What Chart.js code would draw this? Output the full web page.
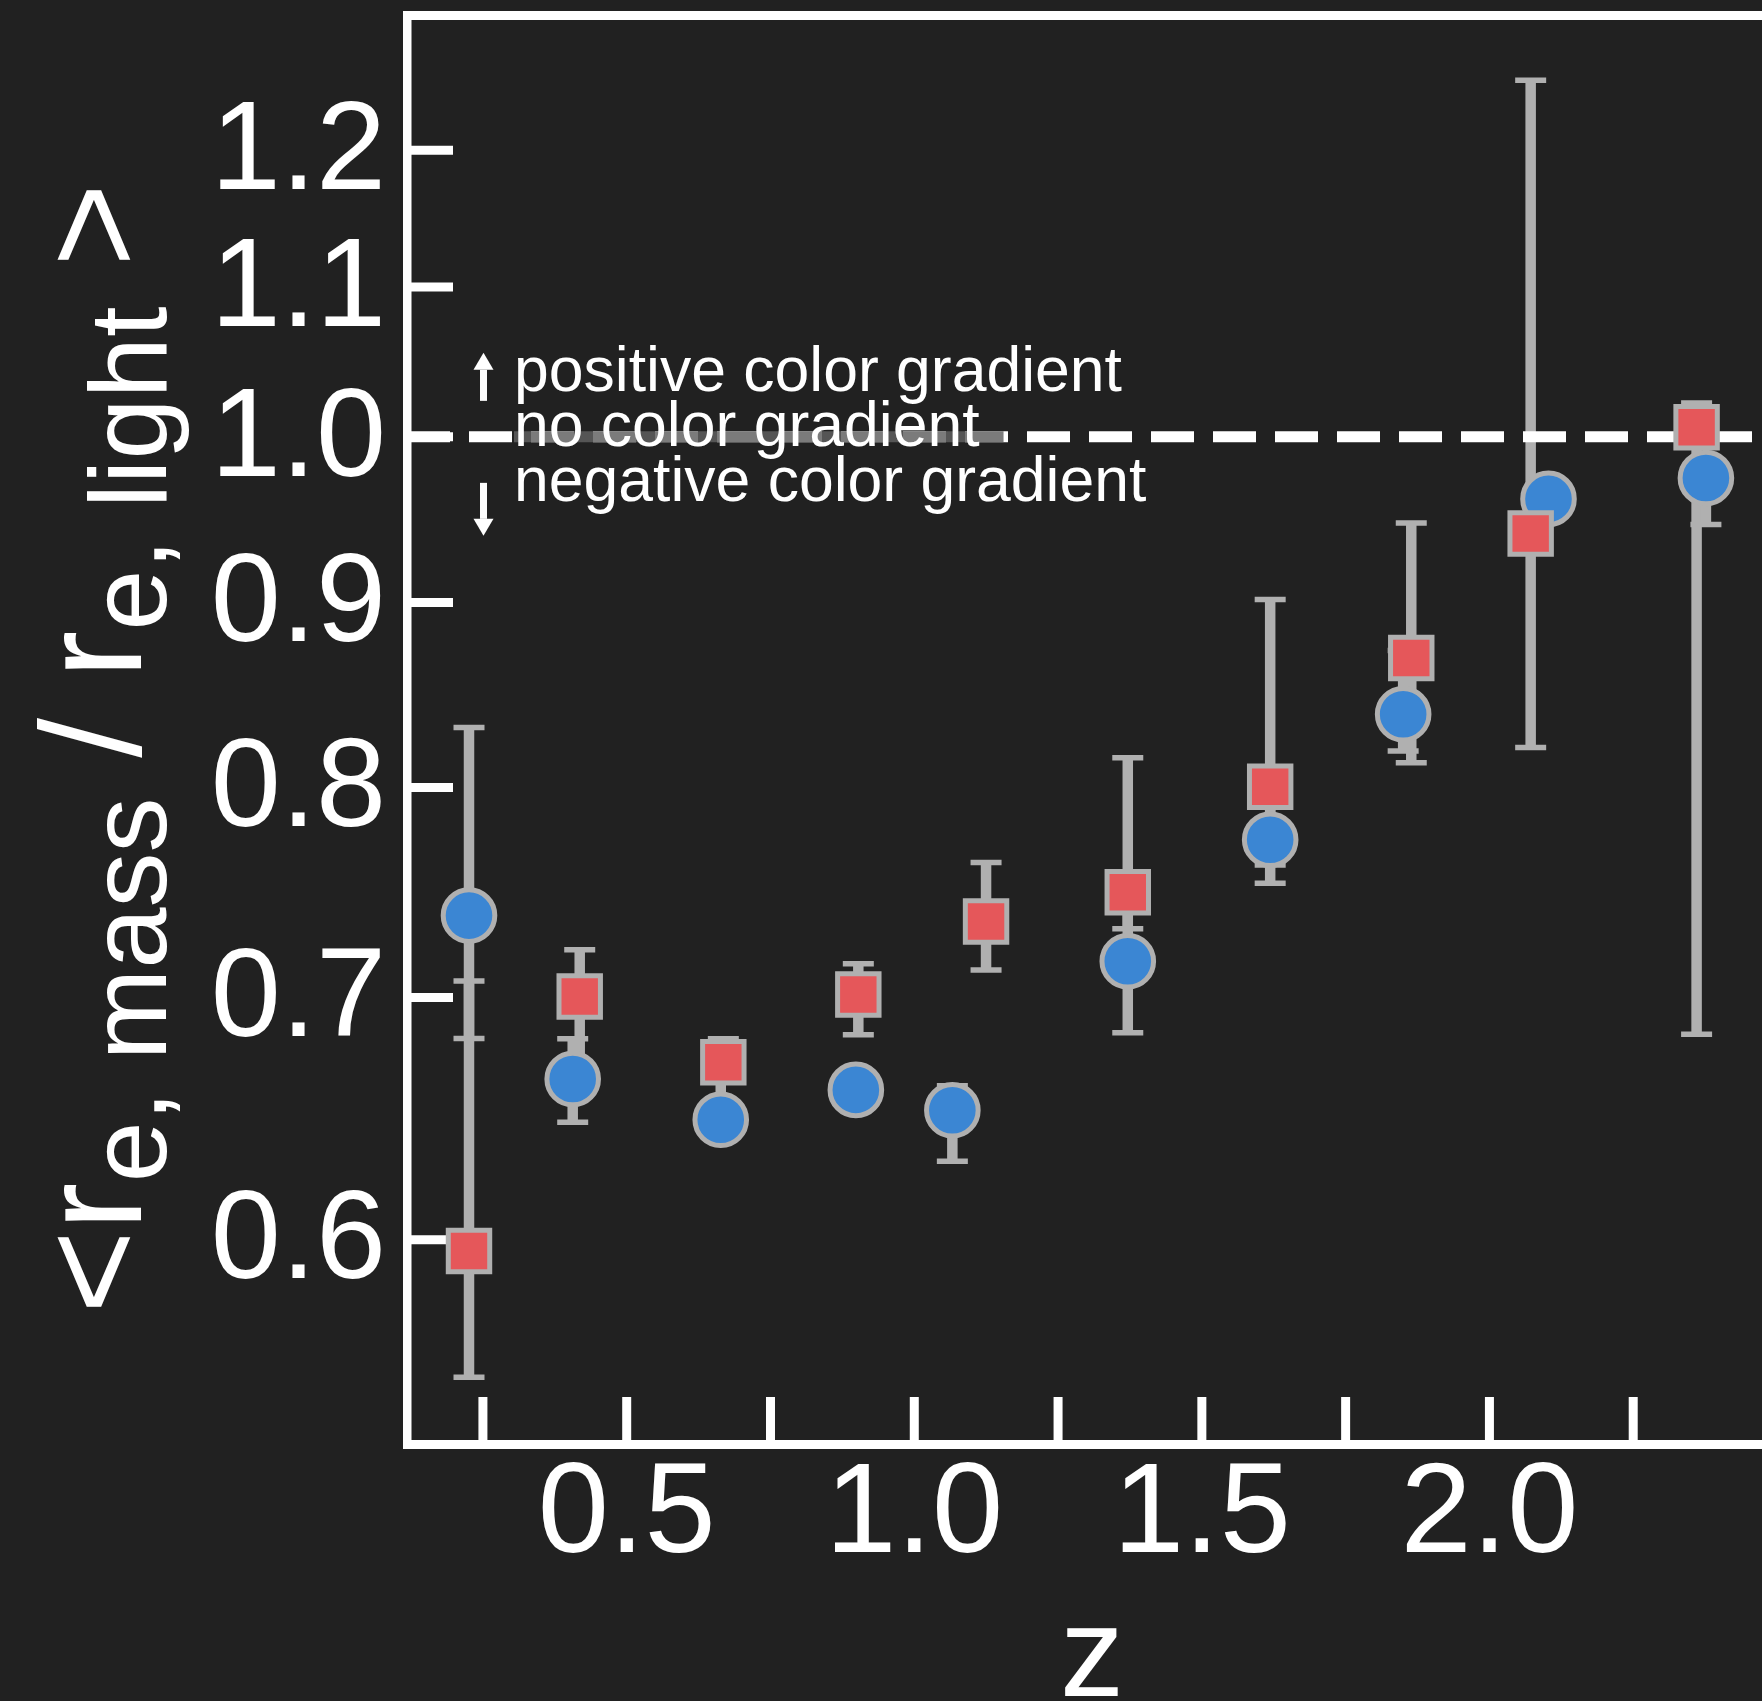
<!DOCTYPE html>
<html>
<head>
<meta charset="utf-8">
<title>Mass-to-light size ratio vs redshift</title>
<script src="https://cdn.jsdelivr.net/npm/chart.js@4.4.1/dist/chart.umd.min.js"></script>
<style>
  html, body { margin: 0; padding: 0; background: #212121; overflow: hidden; }
  #wrap { width: 1777px; height: 1701px; }
  canvas { display: block; }
</style>
</head>
<body>
<div id="wrap"><canvas id="chart" width="1777" height="1701"></canvas></div>
<script>
// ---- data -------------------------------------------------------------
// blue circles
const zBlue     = [0.2258, 0.4061, 0.6635, 0.8984, 1.0662, 1.3712, 1.6188, 1.8500, 2.1027, 2.3764];
const ratioBlue = [0.7374, 0.6646, 0.6476, 0.6600, 0.6515, 0.7163, 0.7739, 0.8382, 0.9613, 0.9742];
const blueUpper = [0.8311, 0.6818, 0.6685, 0.6676, 0.6617, 0.7450, 0.7913, 0.8729, 0.9700, 0.9855];
const blueLower = [0.6819, 0.6465, 0.6394, 0.6526, 0.6307, 0.6844, 0.7527, 0.8188, 0.9517, 0.9458];

// red squares
const zRed      = [0.2258, 0.4183, 0.6680, 0.9027, 1.1248, 1.3712, 1.6188, 1.8641, 2.0717, 2.3602];
const ratioRed  = [0.5957, 0.7004, 0.6717, 0.7013, 0.7346, 0.7484, 0.8004, 0.8687, 0.9404, 1.0061];
const redUpper  = [0.7074, 0.7216, 0.6818, 0.7151, 0.7627, 0.8153, 0.9017, 0.9467, 1.2547, 1.0217];
const redLower  = [0.5497, 0.6665, 0.6651, 0.6836, 0.7123, 0.7313, 0.7615, 0.8127, 0.8207, 0.6838];

// axes
const zRange      = [0.118, 2.5];
const ratioRange  = [0.52685, 1.3079];
const xTickValues = [0.25, 0.5, 0.75, 1.0, 1.25, 1.5, 1.75, 2.0, 2.25];
const xTickLabels = ['', '0.5', '', '1.0', '', '1.5', '', '2.0', ''];
const yTickValues = [0.6, 0.7, 0.8, 0.9, 1.0, 1.1, 1.2];
const yTickLabels = ['0.6', '0.7', '0.8', '0.9', '1.0', '1.1', '1.2'];
const referenceRatio = 1.0;
const gradientNotes = ['positive color gradient', 'no color gradient', 'negative color gradient'];
const noteZ  = 0.304;   // left edge of the notes
const arrowZ = 0.251;   // arrows beside the notes

// ---- style --------------------------------------------------------------
const RED = '#e5575a', BLUE = '#3b86d3', EDGE = '#b0b0b0', WHITE = '#ffffff';
const FONT = '"Liberation Sans", Arial, Helvetica, sans-serif';
const NOTE_FONT = '62.5px ' + FONT;

const points = (xs, ys) => xs.map((x, i) => ({ x: x, y: ys[i] }));

// inward tick marks on the left and bottom spines
const inwardTicks = {
  id: 'inwardTicks',
  beforeDatasetsDraw(chart) {
    const { ctx, chartArea: a, scales: { x, y } } = chart;
    ctx.save();
    ctx.strokeStyle = WHITE;
    ctx.lineWidth = 9;
    ctx.lineCap = 'butt';
    ctx.beginPath();
    y.ticks.forEach(t => {
      const py = y.getPixelForValue(t.value);
      ctx.moveTo(a.left, py); ctx.lineTo(a.left + 46, py);
    });
    x.ticks.forEach(t => {
      const px = x.getPixelForValue(t.value);
      ctx.moveTo(px, a.bottom); ctx.lineTo(px, a.bottom - 47);
    });
    ctx.stroke();
    ctx.restore();
  }
};

// vertical error bars with caps, drawn under all markers
const errorBars = {
  id: 'errorBars',
  beforeDatasetsDraw(chart) {
    const { ctx, scales: { x, y } } = chart;
    ctx.save();
    ctx.strokeStyle = EDGE;
    ctx.lineCap = 'butt';
    chart.data.datasets.forEach(ds => {
      ds.data.forEach((p, i) => {
        const px = x.getPixelForValue(p.x);
        const hi = y.getPixelForValue(ds.errUpper[i]);
        const lo = y.getPixelForValue(ds.errLower[i]);
        ctx.lineWidth = 10.5;
        ctx.beginPath(); ctx.moveTo(px, lo); ctx.lineTo(px, hi); ctx.stroke();
        ctx.lineWidth = 5.5;
        ctx.beginPath();
        ctx.moveTo(px - 15.5, hi); ctx.lineTo(px + 15.5, hi);
        ctx.moveTo(px - 15.5, lo); ctx.lineTo(px + 15.5, lo);
        ctx.stroke();
      });
    });
    ctx.restore();
  }
};

// dashed line at ratio = 1 (no color gradient)
const referenceLine = {
  id: 'referenceLine',
  beforeDatasetsDraw(chart) {
    const { ctx, chartArea: a, scales: { x, y } } = chart;
    const py = y.getPixelForValue(referenceRatio);
    ctx.save();
    ctx.strokeStyle = WHITE;
    ctx.lineWidth = 11;
    ctx.setLineDash([43, 19]);
    ctx.beginPath(); ctx.moveTo(a.left, py); ctx.lineTo(a.right, py); ctx.stroke();
    // muted strip behind the middle note
    ctx.setLineDash([]);
    ctx.font = NOTE_FONT;
    const tx = x.getPixelForValue(noteZ);
    const tw = ctx.measureText(gradientNotes[1]).width;
    ctx.strokeStyle = 'rgba(96,96,96,0.83)';
    ctx.beginPath(); ctx.moveTo(tx, py); ctx.lineTo(tx + tw + 24, py); ctx.stroke();
    ctx.restore();
  }
};

// notes and arrows around the reference line
const gradientNotesPlugin = {
  id: 'gradientNotes',
  afterDatasetsDraw(chart) {
    const { ctx, scales: { x, y } } = chart;
    const py = y.getPixelForValue(referenceRatio);
    const tx = x.getPixelForValue(noteZ);
    const ax = x.getPixelForValue(arrowZ);
    ctx.save();
    ctx.fillStyle = WHITE;
    ctx.strokeStyle = WHITE;
    ctx.font = NOTE_FONT;
    ctx.textBaseline = 'alphabetic';
    ctx.textAlign = 'left';
    [-46, 9, 64].forEach((dy, i) => ctx.fillText(gradientNotes[i], tx, py + dy));

    const arrow = (from, tip) => {
      const dir = Math.sign(tip - from);
      const headLen = 17, headHalf = 10;
      ctx.lineWidth = 7;
      ctx.beginPath(); ctx.moveTo(ax, from); ctx.lineTo(ax, tip - dir * headLen); ctx.stroke();
      ctx.beginPath();
      ctx.moveTo(ax, tip);
      ctx.lineTo(ax - headHalf, tip - dir * headLen);
      ctx.lineTo(ax + headHalf, tip - dir * headLen);
      ctx.closePath(); ctx.fill();
    };
    arrow(py - 36, py - 84);
    arrow(py + 46, py + 99);
    ctx.restore();
  }
};

// y-axis title with subscripts
const yTitle = {
  id: 'yTitle',
  afterDraw(chart) {
    const { ctx, chartArea: a } = chart;
    const parts = [
      { t: '<r',       size: 143, sub: false },
      { t: 'e, mass',  size: 110, sub: true },
      { t: ' / r',     size: 143, sub: false },
      { t: 'e, light', size: 110, sub: true },
      { t: ' >',       size: 143, sub: false }
    ];
    ctx.save();
    let total = 0;
    parts.forEach(p => { ctx.font = p.size + 'px ' + FONT; p.w = ctx.measureText(p.t).width; total += p.w; });
    ctx.translate(a.left - 266, (a.top + a.bottom) / 2 + 19);
    ctx.rotate(-Math.PI / 2);
    ctx.fillStyle = WHITE;
    ctx.textBaseline = 'alphabetic';
    ctx.textAlign = 'left';
    let u = -total / 2;
    parts.forEach(p => {
      ctx.font = p.size + 'px ' + FONT;
      ctx.fillText(p.t, u, p.sub ? 25 : 0);
      u += p.w;
    });
    ctx.restore();
  }
};

const noPad = s => { s.paddingLeft = 0; s.paddingRight = 0; s.paddingTop = 0; s.paddingBottom = 0; };

new Chart(document.getElementById('chart'), {
  type: 'scatter',
  data: {
    datasets: [
      {
        label: 'red',
        data: points(zRed, ratioRed),
        errUpper: redUpper,
        errLower: redLower,
        pointStyle: 'rect',
        pointRadius: 29.3,
        pointHoverRadius: 29.3,
        backgroundColor: RED,
        borderColor: EDGE,
        borderWidth: 5
      },
      {
        label: 'blue',
        data: points(zBlue, ratioBlue),
        errUpper: blueUpper,
        errLower: blueLower,
        pointStyle: 'circle',
        pointRadius: 25.8,
        pointHoverRadius: 25.8,
        backgroundColor: BLUE,
        borderColor: EDGE,
        borderWidth: 5
      }
    ]
  },
  options: {
    responsive: false,
    animation: false,
    devicePixelRatio: 1,
    layout: { padding: 0, autoPadding: false },
    events: [],
    plugins: { legend: { display: false }, tooltip: { enabled: false } },
    scales: {
      x: {
        type: 'linear',
        position: 'bottom',
        min: zRange[0],
        max: zRange[1],
        afterBuildTicks: s => { s.ticks = xTickValues.map(v => ({ value: v })); },
        ticks: {
          callback: (v, i) => xTickLabels[i],
          autoSkip: false,
          maxRotation: 0,
          color: WHITE,
          padding: 9,
          font: { family: FONT, size: 128, lineHeight: 1 }
        },
        grid: { display: true, drawOnChartArea: false, drawTicks: false },
        border: { display: true, color: WHITE, width: 9 },
        title: {
          display: true,
          text: 'z',
          color: WHITE,
          font: { family: FONT, size: 128, lineHeight: 1 },
          padding: { top: 0, bottom: -24 }
        },
        afterFit: s => { s.height = 257; noPad(s); }
      },
      xTop: {
        type: 'linear',
        position: 'top',
        min: zRange[0],
        max: zRange[1],
        ticks: { display: false },
        grid: { display: true, drawOnChartArea: false, drawTicks: false },
        border: { display: true, color: WHITE, width: 9 },
        afterFit: s => { s.height = 15; noPad(s); }
      },
      y: {
        type: 'logarithmic',
        position: 'left',
        min: ratioRange[0],
        max: ratioRange[1],
        afterBuildTicks: s => { s.ticks = yTickValues.map(v => ({ value: v })); },
        ticks: {
          callback: (v, i) => yTickLabels[i],
          autoSkip: false,
          color: WHITE,
          padding: 21,
          labelOffset: 4,
          font: { family: FONT, size: 126, lineHeight: 1 }
        },
        grid: { display: true, drawOnChartArea: false, drawTicks: false },
        border: { display: true, color: WHITE, width: 8.5 },
        afterFit: s => { s.width = 407; noPad(s); }
      }
    }
  },
  plugins: [inwardTicks, errorBars, referenceLine, gradientNotesPlugin, yTitle]
});
</script>
</body>
</html>
